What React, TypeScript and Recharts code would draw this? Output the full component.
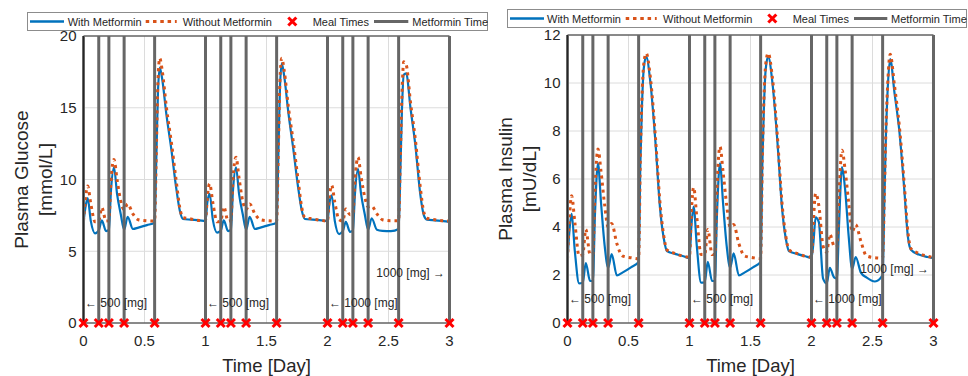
import React from "react";
import {
  ComposedChart,
  Line,
  Scatter,
  XAxis,
  YAxis,
  CartesianGrid,
  ReferenceLine,
  Label,
} from "recharts";

const BLUE = "#0072BD";
const ORANGE = "#D95319";
const GRAY = "#666666";
const TXT = "#262626";
const FONT = '"Liberation Sans", Arial, Helvetica, sans-serif';

// time in days, shared by all four curves
const times = [
  0, 0.015, 0.034, 0.06, 0.095, 0.125, 0.15, 0.185, 0.208, 0.225, 0.25, 0.275, 0.305, 0.333, 0.362,
  0.405, 0.45, 0.52, 0.583, 0.597, 0.61, 0.625, 0.645, 0.68, 0.72, 0.76, 0.79, 0.815, 0.88, 0.95,
  1, 1.015, 1.034, 1.06, 1.095, 1.125, 1.15, 1.185, 1.208, 1.225, 1.25, 1.275, 1.305, 1.333, 1.362,
  1.405, 1.45, 1.52, 1.583, 1.597, 1.61, 1.625, 1.645, 1.68, 1.72, 1.76, 1.79, 1.815, 1.88, 1.95,
  2, 2.015, 2.034, 2.06, 2.095, 2.125, 2.15, 2.185, 2.208, 2.225, 2.25, 2.275, 2.305, 2.333, 2.362,
  2.405, 2.45, 2.52, 2.583, 2.597, 2.61, 2.625, 2.645, 2.68, 2.72, 2.76, 2.79, 2.815, 2.88, 2.95,
  3,
];

const glucoseWith = [
  7.0, 8.0, 8.7, 7.1, 6.25, 6.45, 7.15, 6.4, 6.5, 9.2, 10.85, 9.0, 7.6, 6.5, 7.4,
  6.55, 6.65, 6.82, 7.0, 11.5, 16.0, 17.8, 17.0, 14.5, 12.1, 9.4, 7.8, 7.25, 7.2, 7.15,
  7.1, 8.4, 9.0, 7.2, 6.3, 6.45, 7.15, 6.4, 6.5, 9.2, 10.85, 9.0, 7.6, 6.5, 7.4,
  6.55, 6.65, 6.82, 7.0, 11.6, 16.3, 18.1, 17.2, 14.6, 12.1, 9.4, 7.8, 7.25, 7.2, 7.15,
  7.1, 8.3, 8.9, 7.1, 6.2, 6.4, 7.05, 6.35, 6.45, 9.0, 10.75, 9.0, 7.6, 6.5, 7.3,
  6.5, 6.42, 6.4, 6.55, 10.5, 14.8, 17.3, 17.4, 15.0, 12.4, 9.0, 7.5, 7.2, 7.15, 7.1,
  7.05,
];

const glucoseWithout = [
  7.1, 8.6, 9.55, 8.3, 7.05, 7.1, 8.05, 7.1, 7.15, 9.9, 11.4, 10.0, 8.5, 7.9, 8.3,
  7.6, 7.2, 7.12, 7.1, 12.0, 16.8, 18.45, 17.6, 15.0, 12.6, 9.9, 8.0, 7.35, 7.25, 7.15,
  7.15, 8.8, 9.7, 8.4, 7.05, 7.1, 8.1, 7.1, 7.15, 10.0, 11.55, 10.1, 8.5, 7.9, 8.3,
  7.6, 7.2, 7.12, 7.1, 12.0, 16.8, 18.45, 17.6, 15.0, 12.6, 9.9, 8.0, 7.35, 7.25, 7.15,
  7.1, 8.7, 9.6, 8.4, 7.2, 7.1, 7.95, 7.55, 7.6, 10.0, 11.55, 10.2, 8.8, 8.1, 8.15,
  7.6, 7.2, 7.13, 7.13, 11.5, 15.8, 18.2, 18.0, 15.4, 12.8, 9.5, 7.7, 7.3, 7.2, 7.12,
  7.1,
];

const insulinWith = [
  2.6, 3.8, 4.55, 3.0, 1.65, 1.68, 2.5, 1.75, 1.75, 4.5, 6.65, 5.0, 3.2, 2.3, 2.87,
  1.98, 2.1, 2.32, 2.55, 6.6, 9.0, 10.6, 11.1, 10.0, 7.6, 4.7, 3.5, 3.0, 2.88, 2.78,
  2.7, 4.0, 4.85, 3.2, 1.68, 1.7, 2.55, 1.75, 1.75, 4.5, 6.65, 5.0, 3.2, 2.3, 2.9,
  1.98, 2.1, 2.32, 2.55, 6.6, 9.0, 10.6, 11.1, 10.0, 7.6, 4.7, 3.5, 3.0, 2.88, 2.78,
  2.72, 3.3, 4.4, 4.2, 1.85, 1.65, 2.3, 1.9, 1.85, 4.0, 6.5, 5.6, 3.6, 2.25, 2.75,
  2.1, 1.9, 1.73, 2.0, 5.0, 7.8, 9.8, 11.0, 9.6, 8.0, 5.6, 3.6, 3.05, 2.85, 2.75,
  2.7,
];

const insulinWithout = [
  2.65, 4.3, 5.3, 4.2, 2.8, 2.85, 3.9, 2.85, 2.85, 5.5, 7.25, 6.3, 4.9, 4.0, 4.15,
  3.3, 2.8, 2.72, 2.68, 6.8, 9.3, 10.8, 11.24, 10.2, 7.8, 4.9, 3.6, 3.05, 2.9, 2.78,
  2.75, 4.6, 5.65, 4.4, 2.85, 2.85, 3.9, 2.85, 2.85, 5.6, 7.35, 6.3, 4.9, 4.0, 4.1,
  3.3, 2.8, 2.72, 2.68, 6.8, 9.3, 10.8, 11.24, 10.2, 7.8, 4.9, 3.6, 3.05, 2.9, 2.78,
  2.75, 4.2, 5.4, 4.9, 3.2, 2.95, 3.7, 3.2, 3.15, 5.3, 7.2, 6.4, 5.0, 3.8, 4.1,
  3.4, 2.8, 2.72, 2.7, 5.3, 8.0, 10.0, 11.2, 9.9, 8.2, 5.8, 3.8, 3.1, 2.9, 2.78,
  2.72,
];

const mealTimes = [0, 0.125, 0.208, 0.333, 0.583, 1, 1.125, 1.208, 1.333, 1.583, 2, 2.125, 2.208, 2.333, 2.583, 3];
const metforminTimes = [0, 0.125, 0.208, 0.333, 0.583, 1, 1.125, 1.208, 1.333, 1.583, 2, 2.125, 2.208, 2.333, 2.583, 3];

const xTicks = [0, 0.5, 1, 1.5, 2, 2.5, 3];
const glucoseTicks = [0, 5, 10, 15, 20];
const insulinTicks = [0, 2, 4, 6, 8, 10, 12];

const glucoseNotes = [
  { t: 0, v: 1.4, text: "← 500 [mg]", anchor: "start" },
  { t: 1, v: 1.4, text: "← 500 [mg]", anchor: "start" },
  { t: 2, v: 1.4, text: "← 1000 [mg]", anchor: "start" },
  { t: 3, v: 3.5, text: "1000 [mg] →", anchor: "end" },
];
const insulinNotes = [
  { t: 0, v: 1.0, text: "← 500 [mg]", anchor: "start" },
  { t: 1, v: 1.0, text: "← 500 [mg]", anchor: "start" },
  { t: 2, v: 1.0, text: "← 1000 [mg]", anchor: "start" },
  { t: 3, v: 2.25, text: "1000 [mg] →", anchor: "end" },
];

const glucoseData = times.map((t, i) => ({ t, w: glucoseWith[i], wo: glucoseWithout[i] }));
const insulinData = times.map((t, i) => ({ t, w: insulinWith[i], wo: insulinWithout[i] }));
const mealData = mealTimes.map((t) => ({ t, v: 0 }));

const MealMark = (p: any) => {
  const { cx, cy } = p;
  const r = 4;
  return (
    <g stroke="#FF0000" strokeWidth={3}>
      <line x1={cx - r} y1={cy - r} x2={cx + r} y2={cy + r} />
      <line x1={cx - r} y1={cy + r} x2={cx + r} y2={cy - r} />
    </g>
  );
};

const NoteMark = (p: any) => {
  const { cx, cy, payload } = p;
  const dx = payload.anchor === "end" ? -4.5 : 1.5;
  return (
    <text x={cx + dx} y={cy} textAnchor={payload.anchor} dominantBaseline="central"
      fontSize={12} fill={TXT} fontFamily={FONT}>
      {payload.text}
    </text>
  );
};

function Panel(props: any) {
  const { data, yMax, yTicks, notes, title1, title2, top } = props;
  return (
    <ComposedChart
      width={484}
      height={376}
      data={data}
      margin={{ top, right: 34.5, bottom: 23, left: 53.5 }}
    >
      <CartesianGrid stroke="#dcdcdc" strokeWidth={1} horizontal vertical />
      <XAxis
        dataKey="t"
        type="number"
        domain={[0, 3]}
        ticks={xTicks}
        height={30}
        stroke={TXT}
        tickLine={false}
        tickSize={4}
        tickMargin={8}
        tick={{ fontSize: 15, fill: TXT, fontFamily: FONT }}
        label={
          <Label
            content={(lp: any) => {
              const vb = lp.viewBox;
              return (
                <text x={vb.x + vb.width / 2} y={365} textAnchor="middle" dominantBaseline="central"
                  fontSize={18.5} fill={TXT} fontFamily={FONT}>
                  Time [Day]
                </text>
              );
            }}
          />
        }
      />
      <YAxis
        type="number"
        domain={[0, yMax]}
        ticks={yTicks}
        width={30}
        stroke={TXT}
        tickLine={false}
        tickSize={2}
        tickMargin={5}
        tick={{ fontSize: 15, fill: TXT, fontFamily: FONT }}
        label={
          <Label
            content={(lp: any) => {
              const vb = lp.viewBox;
              const right = vb.x + vb.width;
              const cy = vb.y + vb.height / 2;
              return (
                <g fontSize={19} fill={TXT} fontFamily={FONT} textAnchor="middle">
                  <text x={right - 62} y={cy} dominantBaseline="central" transform={`rotate(-90 ${right - 62} ${cy})`}>
                    {title1}
                  </text>
                  <text x={right - 38} y={cy} dominantBaseline="central" transform={`rotate(-90 ${right - 38} ${cy})`}>
                    {title2}
                  </text>
                </g>
              );
            }}
          />
        }
      />
      <ReferenceLine y={yMax} stroke={TXT} strokeWidth={1} />
      <Line type="monotone" dataKey="w" stroke={BLUE} strokeWidth={2.2} dot={false} isAnimationActive={false} />
      <Line type="monotone" dataKey="wo" stroke={ORANGE} strokeWidth={3} strokeDasharray="3 4"
        dot={false} isAnimationActive={false} />
      {metforminTimes.map((t, i) => (
        <ReferenceLine key={i} x={t} stroke={GRAY} strokeWidth={3} />
      ))}
      <Scatter data={notes} dataKey="v" shape={NoteMark} isAnimationActive={false} />
      <Scatter data={mealData} dataKey="v" shape={MealMark} isAnimationActive={false} />
    </ComposedChart>
  );
}

function LegendBox(props: any) {
  const { left, top, width, pos } = props;
  const h = 19;
  const cy = 9.5;
  const txt = { fontSize: 11, fill: TXT, fontFamily: FONT, dominantBaseline: "central" } as any;
  return (
    <svg width={width} height={h} style={{ position: "absolute", left, top }}>
      <rect x={0.5} y={0.5} width={width - 1} height={h - 1} fill="#fff" stroke="#8c8c8c" />
      <line x1={pos[0]} x2={pos[1]} y1={cy} y2={cy} stroke={BLUE} strokeWidth={2.5} />
      <text x={pos[2]} y={cy} {...txt}>With Metformin</text>
      <line x1={pos[3]} x2={pos[4]} y1={cy} y2={cy} stroke={ORANGE} strokeWidth={3} strokeDasharray="3.5 3.8" />
      <text x={pos[5]} y={cy} {...txt}>Without Metformin</text>
      <MealMark cx={pos[6]} cy={cy} />
      <text x={pos[7]} y={cy} {...txt}>Meal Times</text>
      <line x1={pos[8]} x2={pos[9]} y1={cy} y2={cy} stroke={GRAY} strokeWidth={3} />
      <text x={pos[10]} y={cy} {...txt}>Metformin Time</text>
    </svg>
  );
}

export default function App() {
  return (
    <div style={{ position: "absolute", left: 0, top: 0, width: 968, height: 376, overflow: "hidden", background: "#fff" }}>
      <div style={{ position: "absolute", left: 0, top: 0 }}>
        <Panel data={glucoseData} yMax={20} yTicks={glucoseTicks} notes={glucoseNotes}
          title1="Plasma Glucose" title2="[mmol/L]" top={36} />
      </div>
      <div style={{ position: "absolute", left: 484, top: 0 }}>
        <Panel data={insulinData} yMax={12} yTicks={insulinTicks} notes={insulinNotes}
          title1="Plasma Insulin" title2="[mU/dL]" top={35} />
      </div>
      <LegendBox left={27} top={12} width={461}
        pos={[3, 37, 40.7, 118.7, 149.7, 155.7, 265.3, 285.7, 347, 381.3, 385.3]} />
      <LegendBox left={507} top={9} width={460}
        pos={[3, 37, 40, 118.7, 149.7, 156, 265.3, 285.7, 347, 380.3, 384]} />
    </div>
  );
}
